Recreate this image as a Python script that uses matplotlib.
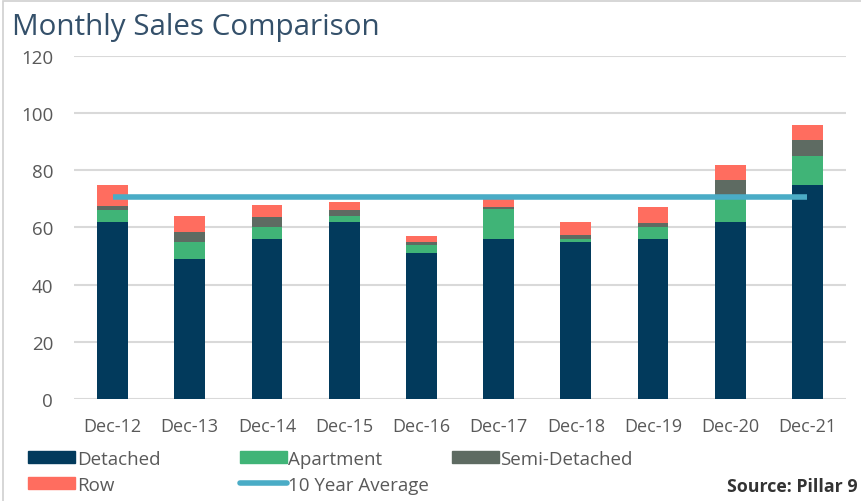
import matplotlib.pyplot as plt
from matplotlib.patches import Patch, Rectangle
from matplotlib.lines import Line2D
import numpy as np

plt.rcParams["font.family"] = ["Open Sans", "DejaVu Sans"]

years = ["Dec-12", "Dec-13", "Dec-14", "Dec-15", "Dec-16",
         "Dec-17", "Dec-18", "Dec-19", "Dec-20", "Dec-21"]
detached = [62, 49, 56, 62, 51, 56, 55, 56, 62, 75]
apartment = [4, 6, 4, 2, 3, 10.5, 1, 4, 9.5, 10]
semi_detached = [1.5, 3.5, 3.5, 2, 1, 0.5, 1.5, 1.5, 5, 5.5]
row = [7.5, 5.5, 4.5, 3, 2, 3, 4.5, 5.5, 5.5, 5.5]
ten_year_avg = 70.7

colors = {
    "Detached": "#023a5c",
    "Apartment": "#40b477",
    "Semi-Detached": "#5e6b62",
    "Row": "#ff6d5f",
    "avg": "#4aacc6",
}

fig = plt.figure(figsize=(8.62, 5.02), dpi=100)
ax = fig.add_axes([0.0858, 0.2032, 0.8956, 0.6833])

x = np.arange(len(years))
w = 0.4
bottom = np.zeros(len(years))
for name, vals in [("Detached", detached), ("Apartment", apartment),
                   ("Semi-Detached", semi_detached), ("Row", row)]:
    ax.bar(x, vals, w, bottom=bottom, color=colors[name], zorder=3)
    bottom += np.array(vals)

ax.plot([x[0], x[-1]], [ten_year_avg, ten_year_avg], color=colors["avg"],
        lw=4, zorder=4, solid_capstyle="butt")

ax.set_xlim(-0.5, len(years) - 0.5)
ax.set_ylim(0, 120)
ax.set_yticks(range(0, 121, 20))
ax.set_xticks(x)
ax.set_xticklabels(years)
ax.grid(axis="y", color="#d9d9d9", lw=1.5, zorder=0)
for s in ax.spines.values():
    s.set_visible(False)
ax.tick_params(length=0, colors="#595959")
ax.tick_params(axis="y", pad=15, labelsize=13.5)
ax.tick_params(axis="x", pad=13, labelsize=13)

fig.text(0.014, 0.945, "Monthly Sales Comparison", fontsize=21.3,
         color="#34506a", va="center", ha="left")

# legend laid out in three fixed columns like the original
columns = [
    (0.0325, [Patch(color=colors["Detached"], label="Detached"),
              Patch(color=colors["Row"], label="Row")]),
    (0.278, [Patch(color=colors["Apartment"], label="Apartment"),
             Line2D([0], [0], color=colors["avg"], lw=4, solid_capstyle="round",
                    label="10 Year Average")]),
    (0.524, [Patch(color=colors["Semi-Detached"], label="Semi-Detached")]),
]
for xpos, hs in columns:
    fig.legend(handles=hs, loc="upper left", bbox_to_anchor=(xpos, 0.102),
               frameon=False, fontsize=13.5, handlelength=2.5,
               handleheight=0.65, handletextpad=0.1, labelspacing=0.42,
               borderpad=0, borderaxespad=0, labelcolor="#595959")

fig.text(0.843, 0.03, "Source: Pillar 9", fontsize=12.8, fontweight="bold",
         color="#333333", va="center", ha="left")

fig.patches.append(Rectangle((0.003, -0.1), 1.2, 1.096, transform=fig.transFigure,
                             fill=False, edgecolor="#d0d0d0", lw=1.2))

fig.savefig("out.png", dpi=100)
